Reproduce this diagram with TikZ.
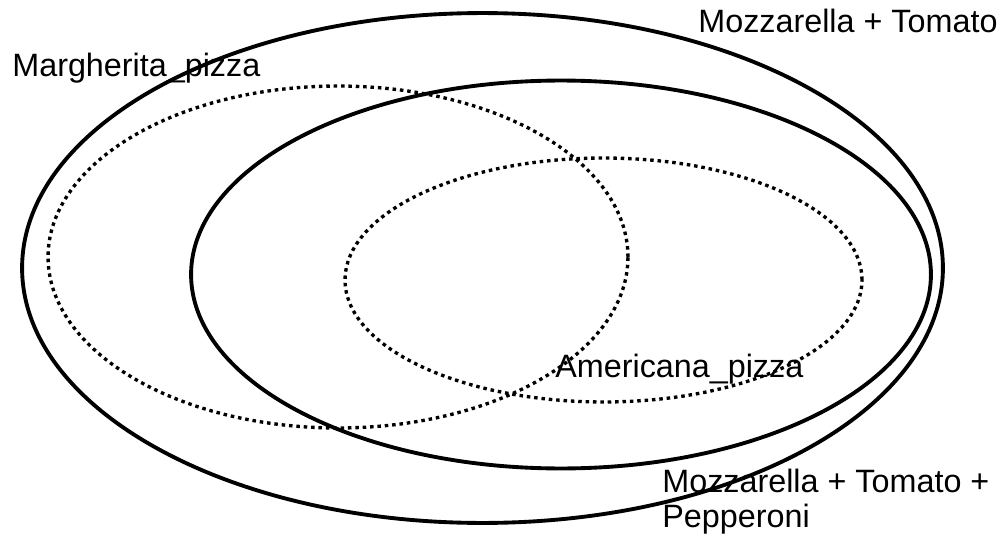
\documentclass[tikz,border=0pt]{standalone}
\usepackage{fontspec}
\setmainfont{Liberation Sans}
\usepackage{tikz}
\usetikzlibrary{positioning, shapes.geometric}
\tikzset{
    set/.style={
        ellipse,
        draw=black,
        inner sep=0pt,
        outer sep=0pt
    },
    solidset/.style={set, line width=2.2pt},
    dottedset/.style={set, line width=1.9pt, dash pattern=on 2pt off 2.2pt},
    setlabel/.style={
        anchor=base west,
        inner sep=0pt,
        align=left,
        font=\fontsize{18.4}{19.6}\selectfont
    }
}

\begin{document}
\begin{tikzpicture}[x=0.02cm, y=0.02cm]

\useasboundingbox (0,0) rectangle (1003,535);

% Mozzarella + Tomato
\node[solidset, minimum width=18.42cm, minimum height=10.2cm] (mt) at (482.5,267) {};

% Mozzarella + Tomato + Pepperoni
\node[solidset, minimum width=14.8cm, minimum height=7.76cm] (mtp) at (561,260.5) {};

% Margherita_pizza
\node[dottedset, minimum width=11.6cm, minimum height=6.84cm] (margherita) at (338,278) {};

% Americana_pizza
\node[dottedset, minimum width=10.34cm, minimum height=4.88cm] (americana) at (603.5,255) {};

% Labels (base of a two-line label is its last line)
\node[setlabel] (l_mt) at (698,502) {Mozzarella + Tomato};
\node[setlabel] (l_margherita) at (12,459) {Margherita\_pizza};
\node[setlabel] (l_americana) at (555,158) {Americana\_pizza};
\node[setlabel] (l_mtp) at (662,8) {Mozzarella + Tomato +\\Pepperoni};

\end{tikzpicture}
\end{document}
